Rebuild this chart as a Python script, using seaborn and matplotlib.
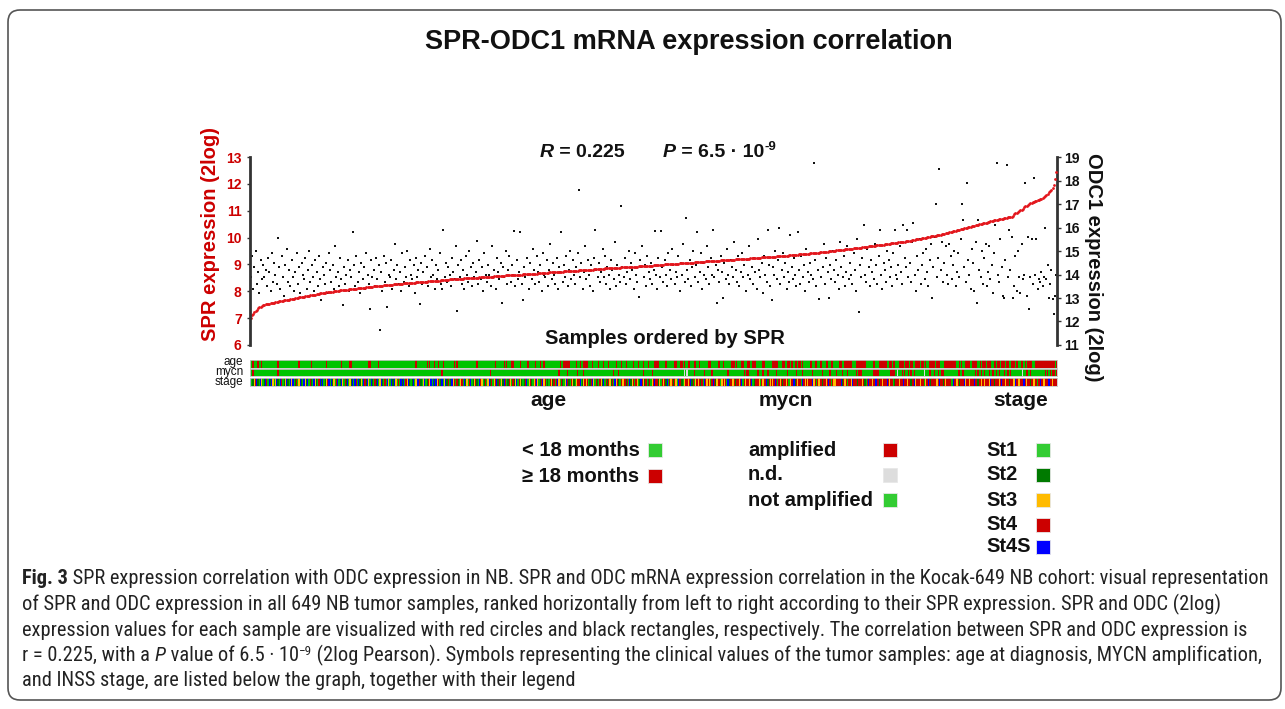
import numpy as np
import pandas as pd
import seaborn as sns
import matplotlib.pyplot as plt
from matplotlib.colors import ListedColormap
from matplotlib.patches import FancyBboxPatch, Rectangle
from matplotlib import font_manager

W, H = 1285, 709

# SPR expression (2log), samples sorted by SPR
spr = [
    7.00, 7.10, 7.17, 7.22, 7.28, 7.32, 7.36, 7.40, 7.43, 7.46,
    7.48, 7.50, 7.51, 7.52, 7.53, 7.54, 7.55, 7.56, 7.57, 7.58,
    7.59, 7.60, 7.61, 7.62, 7.63, 7.64, 7.65, 7.66, 7.67, 7.68,
    7.69, 7.69, 7.70, 7.71, 7.72, 7.73, 7.74, 7.75, 7.76, 7.77,
    7.78, 7.78, 7.79, 7.80, 7.81, 7.82, 7.83, 7.84, 7.85, 7.86,
    7.87, 7.87, 7.88, 7.89, 7.90, 7.91, 7.92, 7.92, 7.93, 7.94,
    7.95, 7.96, 7.97, 7.97, 7.98, 7.98, 7.99, 8.00, 8.00, 8.01,
    8.01, 8.02, 8.03, 8.03, 8.04, 8.04, 8.05, 8.06, 8.06, 8.07,
    8.07, 8.08, 8.08, 8.09, 8.09, 8.10, 8.11, 8.11, 8.12, 8.12,
    8.13, 8.13, 8.14, 8.15, 8.15, 8.16, 8.16, 8.17, 8.17, 8.18,
    8.18, 8.19, 8.19, 8.20, 8.20, 8.21, 8.21, 8.22, 8.22, 8.23,
    8.23, 8.24, 8.24, 8.25, 8.25, 8.26, 8.26, 8.26, 8.27, 8.27,
    8.28, 8.28, 8.28, 8.29, 8.29, 8.30, 8.30, 8.30, 8.31, 8.31,
    8.32, 8.32, 8.32, 8.33, 8.33, 8.34, 8.34, 8.34, 8.35, 8.35,
    8.35, 8.36, 8.36, 8.37, 8.37, 8.37, 8.38, 8.38, 8.39, 8.39,
    8.40, 8.40, 8.40, 8.41, 8.41, 8.42, 8.42, 8.43, 8.43, 8.43,
    8.44, 8.44, 8.44, 8.45, 8.45, 8.45, 8.46, 8.46, 8.46, 8.47,
    8.47, 8.47, 8.48, 8.48, 8.48, 8.49, 8.49, 8.49, 8.50, 8.50,
    8.50, 8.51, 8.51, 8.51, 8.52, 8.52, 8.52, 8.53, 8.53, 8.53,
    8.54, 8.54, 8.54, 8.55, 8.55, 8.55, 8.56, 8.56, 8.56, 8.57,
    8.57, 8.57, 8.58, 8.58, 8.58, 8.59, 8.59, 8.59, 8.60, 8.60,
    8.60, 8.60, 8.61, 8.61, 8.61, 8.62, 8.62, 8.62, 8.62, 8.63,
    8.63, 8.63, 8.64, 8.64, 8.64, 8.65, 8.65, 8.65, 8.66, 8.66,
    8.66, 8.67, 8.67, 8.67, 8.68, 8.68, 8.68, 8.69, 8.69, 8.69,
    8.70, 8.70, 8.70, 8.71, 8.71, 8.71, 8.72, 8.72, 8.72, 8.73,
    8.73, 8.73, 8.74, 8.74, 8.74, 8.75, 8.75, 8.75, 8.76, 8.76,
    8.76, 8.77, 8.77, 8.77, 8.78, 8.78, 8.78, 8.79, 8.79, 8.79,
    8.80, 8.80, 8.80, 8.81, 8.81, 8.81, 8.82, 8.82, 8.82, 8.83,
    8.83, 8.83, 8.84, 8.84, 8.84, 8.85, 8.85, 8.85, 8.86, 8.86,
    8.86, 8.87, 8.87, 8.87, 8.88, 8.88, 8.88, 8.88, 8.89, 8.89,
    8.89, 8.90, 8.90, 8.90, 8.90, 8.91, 8.91, 8.91, 8.91, 8.92,
    8.92, 8.92, 8.93, 8.93, 8.93, 8.94, 8.94, 8.94, 8.95, 8.95,
    8.95, 8.96, 8.96, 8.96, 8.97, 8.97, 8.97, 8.98, 8.98, 8.98,
    8.99, 8.99, 8.99, 9.00, 9.00, 9.00, 9.01, 9.01, 9.01, 9.02,
    9.02, 9.02, 9.03, 9.03, 9.03, 9.04, 9.04, 9.04, 9.05, 9.05,
    9.05, 9.06, 9.06, 9.06, 9.07, 9.07, 9.07, 9.08, 9.08, 9.08,
    9.09, 9.09, 9.09, 9.10, 9.10, 9.10, 9.11, 9.11, 9.11, 9.12,
    9.12, 9.12, 9.13, 9.13, 9.13, 9.14, 9.14, 9.14, 9.15, 9.15,
    9.15, 9.16, 9.16, 9.16, 9.17, 9.17, 9.17, 9.18, 9.18, 9.18,
    9.19, 9.19, 9.19, 9.20, 9.20, 9.20, 9.21, 9.21, 9.21, 9.22,
    9.22, 9.22, 9.23, 9.23, 9.23, 9.24, 9.24, 9.24, 9.25, 9.25,
    9.25, 9.26, 9.26, 9.26, 9.27, 9.27, 9.27, 9.28, 9.28, 9.28,
    9.29, 9.29, 9.29, 9.30, 9.30, 9.31, 9.31, 9.31, 9.32, 9.32,
    9.32, 9.33, 9.33, 9.34, 9.34, 9.34, 9.35, 9.35, 9.36, 9.36,
    9.36, 9.37, 9.37, 9.38, 9.38, 9.38, 9.39, 9.39, 9.40, 9.40,
    9.41, 9.41, 9.42, 9.42, 9.43, 9.43, 9.44, 9.44, 9.45, 9.45,
    9.46, 9.46, 9.47, 9.47, 9.48, 9.49, 9.49, 9.50, 9.50, 9.51,
    9.51, 9.52, 9.52, 9.53, 9.54, 9.54, 9.55, 9.55, 9.56, 9.56,
    9.57, 9.57, 9.58, 9.59, 9.59, 9.60, 9.60, 9.61, 9.61, 9.62,
    9.63, 9.63, 9.64, 9.64, 9.65, 9.66, 9.66, 9.67, 9.67, 9.68,
    9.69, 9.69, 9.70, 9.71, 9.71, 9.72, 9.72, 9.73, 9.74, 9.74,
    9.75, 9.76, 9.76, 9.77, 9.77, 9.78, 9.79, 9.79, 9.80, 9.81,
    9.81, 9.82, 9.83, 9.83, 9.84, 9.85, 9.85, 9.86, 9.87, 9.87,
    9.88, 9.89, 9.90, 9.91, 9.92, 9.93, 9.94, 9.94, 9.95, 9.96,
    9.97, 9.98, 9.99, 10.00, 10.01, 10.02, 10.03, 10.04, 10.05, 10.06,
    10.06, 10.07, 10.08, 10.09, 10.10, 10.11, 10.12, 10.13, 10.15, 10.16,
    10.17, 10.18, 10.20, 10.21, 10.22, 10.23, 10.25, 10.26, 10.27, 10.28,
    10.30, 10.31, 10.32, 10.33, 10.35, 10.36, 10.37, 10.38, 10.40, 10.41,
    10.42, 10.43, 10.44, 10.45, 10.47, 10.48, 10.49, 10.50, 10.51, 10.53,
    10.54, 10.55, 10.56, 10.57, 10.59, 10.60, 10.61, 10.62, 10.64, 10.65,
    10.66, 10.67, 10.68, 10.69, 10.70, 10.71, 10.72, 10.73, 10.74, 10.75,
    10.76, 10.77, 10.78, 10.82, 10.86, 10.90, 10.93, 10.95, 10.98, 11.01,
    11.04, 11.08, 11.12, 11.16, 11.19, 11.22, 11.25, 11.27, 11.29, 11.31,
    11.33, 11.35, 11.37, 11.39, 11.41, 11.43, 11.45, 11.47, 11.50, 11.53,
    11.58, 11.63, 11.68, 11.73, 11.78, 11.86, 11.95, 12.18, 12.45,
]

# ODC1 expression (2log), same sample order
odc1 = [
    13.9, 14.8, 13.4, 14.3, 15.0, 13.6, 14.1, 13.2, 14.6, 13.8,
    14.4, 13.9, 14.2, 13.5, 14.7, 14.1, 13.3, 14.9, 13.7, 14.5,
    14.0, 13.6, 15.56, 14.3, 13.4, 14.8, 13.9, 13.1, 14.4, 15.1,
    13.7, 14.2, 13.5, 14.6, 13.9, 13.3, 14.1, 14.9, 13.6, 14.3,
    13.2, 14.5, 14.0, 13.8, 14.7, 13.4, 14.2, 15.0, 13.7, 14.4,
    13.9, 13.3, 14.6, 14.1, 13.5, 14.8, 13.8, 12.9, 14.3, 14.0,
    13.6, 14.5, 13.2, 14.9, 14.2, 13.7, 14.4, 13.4, 15.2, 13.9,
    14.1, 13.5, 14.7, 13.8, 12.7, 14.3, 13.6, 14.0, 14.6, 13.3,
    14.2, 13.9, 15.8, 14.4, 13.5, 14.8, 13.7, 14.1, 13.2, 14.5,
    13.8, 14.3, 13.4, 14.9, 14.0, 13.6, 12.55, 14.6, 13.9, 14.2,
    13.5, 14.7, 13.8, 14.4, 11.65, 14.1, 13.3, 14.8, 13.7, 14.5,
    12.6, 14.0, 13.9, 14.6, 13.4, 14.2, 15.3, 13.8, 14.4, 13.6,
    14.1, 13.3, 14.9, 13.7, 14.3, 13.9, 15.0, 13.5, 14.6, 14.0,
    13.8, 14.4, 13.2, 14.7, 13.9, 14.2, 12.75, 14.5, 13.6, 14.1,
    14.8, 13.7, 14.3, 13.5, 15.1, 13.9, 14.6, 14.0, 13.4, 14.4,
    13.8, 14.2, 14.9, 13.6, 13.4, 15.9, 13.9, 14.5, 13.7, 14.3,
    14.0, 13.5, 14.7, 14.1, 13.8, 15.2, 12.46, 14.4, 13.9, 14.6,
    13.6, 14.2, 13.4, 14.8, 14.0, 13.7, 15.0, 14.3, 13.5, 14.5,
    13.9, 14.1, 15.43, 13.6, 14.6, 13.8, 14.3, 13.3, 14.9, 14.0,
    13.7, 14.4, 14.0, 13.5, 15.2, 13.9, 14.2, 13.4, 14.7, 14.1,
    13.8, 14.5, 12.8, 14.3, 13.9, 15.0, 13.6, 14.2, 14.8, 13.7,
    14.4, 14.0, 15.86, 13.5, 14.6, 13.8, 14.1, 15.82, 13.6, 12.9,
    14.3, 13.9, 14.7, 14.0, 13.4, 14.5, 13.8, 15.1, 14.2, 13.6,
    14.8, 14.1, 13.7, 14.4, 13.3, 14.9, 14.0, 13.9, 14.6, 13.5,
    14.2, 15.3, 13.8, 14.5, 14.0, 13.6, 14.7, 13.4, 14.3, 14.1,
    15.8, 13.7, 14.4, 13.9, 14.8, 13.5, 14.2, 15.0, 13.8, 14.6,
    14.0, 13.6, 14.3, 14.9, 17.6, 13.9, 14.5, 13.4, 14.1, 15.2,
    13.8, 14.6, 14.0, 13.5, 14.4, 13.3, 14.7, 15.9, 14.2, 13.9,
    14.5, 13.7, 14.1, 15.1, 13.9, 14.8, 13.6, 14.3, 14.0, 13.4,
    14.6, 14.2, 13.8, 15.4, 13.5, 14.4, 14.0, 13.7, 16.9, 14.3,
    13.9, 14.7, 13.6, 14.1, 15.0, 13.8, 14.5, 14.2, 13.4, 14.9,
    14.0, 13.7, 13.06, 14.6, 14.3, 15.2, 13.9, 14.4, 13.5, 14.8,
    14.1, 13.8, 14.5, 13.6, 14.2, 15.85, 14.0, 13.4, 14.7, 13.9,
    15.85, 14.3, 13.7, 14.6, 14.0, 13.5, 14.9, 14.2, 13.8, 15.1,
    14.4, 13.6, 14.1, 13.9, 14.8, 13.3, 14.5, 14.0, 15.3, 13.7,
    16.4, 14.2, 13.8, 14.6, 13.5, 14.3, 15.0, 13.9, 14.4, 15.8,
    13.7, 14.1, 14.9, 13.4, 14.5, 14.0, 13.8, 15.2, 14.3, 13.6,
    14.7, 14.0, 15.9, 13.9, 14.4, 12.8, 14.2, 13.7, 14.8, 14.1,
    13.0, 14.5, 13.8, 15.1, 14.0, 13.6, 14.6, 14.3, 13.9, 15.4,
    14.2, 13.7, 14.8, 13.5, 14.1, 14.9, 13.9, 14.4, 13.3, 14.6,
    14.0, 15.2, 13.8, 14.3, 13.6, 14.7, 14.1, 13.4, 15.5, 14.2,
    13.9, 14.5, 13.2, 14.8, 14.0, 13.7, 15.9, 14.4, 13.5, 12.9,
    14.3, 14.0, 15.0, 13.8, 14.6, 16.0, 13.6, 14.2, 14.9, 13.9,
    14.5, 13.4, 14.1, 13.7, 15.7, 14.3, 13.8, 14.7, 14.0, 13.5,
    15.8, 14.2, 13.6, 14.8, 13.9, 14.4, 13.3, 15.1, 14.1, 13.7,
    14.5, 14.0, 13.8, 18.74, 14.6, 13.5, 14.2, 12.95, 14.9, 13.9,
    14.3, 15.3, 13.6, 14.7, 14.1, 13.0, 14.4, 13.8, 15.0, 14.2,
    13.7, 14.6, 14.0, 13.4, 15.4, 14.3, 13.9, 14.8, 13.5, 14.1,
    15.2, 13.8, 14.5, 14.0, 13.6, 14.9, 14.2, 13.3, 15.5, 12.4,
    14.4, 13.9, 14.7, 16.1, 14.0, 13.7, 15.1, 14.3, 13.5, 14.6,
    14.1, 13.8, 15.3, 14.4, 13.6, 14.8, 15.9, 14.0, 13.4, 14.5,
    14.2, 13.7, 15.0, 14.6, 13.9, 14.3, 13.5, 14.9, 15.9, 14.0,
    13.8, 14.4, 15.2, 14.1, 13.6, 16.1, 14.7, 14.3, 15.9, 13.9,
    14.5, 13.7, 15.4, 16.2, 14.0, 13.3, 14.8, 14.2, 15.5, 13.6,
    14.4, 14.9, 13.8, 15.1, 14.1, 13.5, 14.6, 15.3, 13.0, 14.3,
    15.6, 17.0, 13.9, 14.7, 18.5, 14.2, 15.4, 13.7, 14.5, 15.2,
    14.0, 13.6, 15.3, 14.8, 13.8, 14.4, 15.0, 13.5, 14.1, 14.9,
    13.9, 15.5, 16.98, 16.3, 14.3, 13.7, 17.9, 14.6, 14.0, 13.4,
    15.1, 14.5, 13.3, 15.4, 12.8, 16.3, 14.2, 13.9, 15.0, 13.6,
    14.7, 15.3, 13.5, 14.1, 15.2, 13.8, 14.4, 13.2, 14.9, 16.1,
    18.74, 14.0, 13.7, 15.5, 14.3, 13.1, 13.0, 14.6, 18.66, 13.9,
    15.9, 14.2, 15.6, 13.0, 13.5, 14.8, 13.3, 15.0, 13.9, 13.2,
    15.3, 13.8, 14.0, 17.9, 13.1, 15.6, 12.55, 13.9, 15.5, 13.6,
    18.1, 14.0, 15.5, 13.4, 13.8, 13.7, 14.1, 13.5, 13.9, 16.0,
    13.8, 14.4, 13.0, 13.6, 14.2, 12.95, 12.3, 13.1, 14.0,
]

# clinical tracks, one character per sample
# age: g = < 18 months, r = >= 18 months
age_rows = [
    "ggrgggrggr gggggggggg ggrggggggg gggggggggr gggggggggr",
    "gggggggggg grgggggggg gggrgggggg rrgggggggg gggggrrggg",
    "gggrgggggg gggggggggg gggggggggg gggrgggggg ggrgrgggrg",
    "grgggrgggg ggggrgrggg gggggggggg ggrggggggg gggggggrgg",
    "ggggrgrggg rrgggggrgg gggrgggggr gggrggrggg gggggggggr",
    "ggrrrrrggg ggrggrggrr rrgggrgggg rgggrgggrg ggggrgggrg",
    "ggrgggggrg ggrgggrggg rggggrrrrg ggggrggggg grrgggrrgr",
    "ggrrgggrrg grggggggrr rgggggrrgg rggggggrrr grgggrrggg",
    "rrggrrrggg ggrrgggggg rrrrrgggrr ggrrgrrgrr grrgrggggg",
    "rrggrrggrr gggrrggrrg ggggrrggrr rrrrgggrrr rrrrrggggg",
    "grrgggrrrr rrggrrgrrg ggrrrrgrrr grrggrrrrg rrgrggrrrr",
    "rgrrrgggrr rrrrrrrrgg rgrggrrrrg grrrrggrgr rrgrrrggrr",
    "grrgrrrgrr ggrrrgrrgg rrgrgrrrrg grrrrrrrrr rrrrrrrgr",
]
# mycn: g = not amplified, r = amplified, w = n.d.
mycn_rows = [
    "ggrggggggg gggggggggg ggrggggggg gggggggggg gggggggggg",
    "gggggggggg gggggggggg gggggggggg gggggggggg gggggggggg",
    "gggggggggg gggggggggg gggggggggg gggggggggg gggggggggg",
    "ggggrggggg gggggggggg gggggggggg gggggggggg gggrgggggg",
    "gggggggggg gggggggggg gggggggggg gggggggggg ggggggggrg",
    "gggggrgggg gggrggggrg gggggggggg gggggggggg ggrgggrggg",
    "gggggggggg ggggggrggg gggrgggggg gggggggggg gggggggggw",
    "gwgggggrgg gggggrgggg grgggggggg ggggrggggg gggggggrgr",
    "rgggggggrg ggrgggrggg gggrgggggg ggrggggggr ggggrggggg",
    "ggrggggggg rgggggrggg grggggrggg rggggggrgr rrgggggggg",
    "grrrrrgggg gggggrrrrg wgggrgrggr grggrggggg ggwgggrrgg",
    "rggrggrrgg gggggggggr rggrgggggg gggrgrggrg rgggrggrgg",
    "rgrgggrggr grgggggggg gwggrrgrgg gggggggggr grgrgrrgr",
]
# INSS stage: 1, 2, 3, 4, S = 4S
stage_rows = [
    "S1234S21S3 12S41S2S31 3S21S4123S 21S3S12413 S21S32S142",
    "1S3214S2S1 234S1S2314 S12S3142S1 32S1S41S23 1S42S31S21",
    "42S13S2141 S31S22S314 1S2S143S21 2S13SS4213 S1243S1S2S",
    "3412S13S24 12S3414213 41S2314S12 3421S43124 13S24134S2",
    "4132S41243 1423S14321 24S1342134 S3124S3412 1432414S31",
    "4213S42143 21344S1234 34124S3142 1432S14243 241S342143",
    "34241S2341 4312S43241 24134S4423 14342S1434 2431S44213",
    "4434S24134 34241S4343 14S4234413 4341S24434 24434S1434",
    "434S124443 14344S2434 34S4143424 4341344S24 3441S43434",
    "44S3414344 24434S4143 34444S2434 1443S44424 4434214S44",
    "344S442434 44S4344124 44344S4434 4244S34443 44134S4244",
    "4434S44243 44441S4434 2444S34434 44S4424434 34443S4424",
    "4434S44344 24443S4434 44S4344244 34414S4434 44S443444",
]

age_labels = ["< 18 months", "≥ 18 months"]
mycn_labels = ["amplified", "n.d.", "not amplified"]
stage_labels = ["St1", "St2", "St3", "St4", "St4S"]

RED = "#CC0000"
GREEN = "#00C400"
LGREEN = "#33CC33"
DGREEN = "#007A00"
ORANGE = "#FFBB00"
BLUE = "#0000FF"
GREY = "#DDDDDD"
INK = "#111111"

age_track = "".join("".join(r.split()) for r in age_rows)
mycn_track = "".join("".join(r.split()) for r in mycn_rows)
stage_track = "".join("".join(r.split()) for r in stage_rows)
n = len(spr)
lens = [len(spr), len(odc1), len(age_track), len(mycn_track), len(stage_track)]
if len(set(lens)) != 1:
    raise ValueError("length mismatch: %s" % lens)

sns.set_style("white")
plt.rcParams["font.family"] = ["Liberation Sans", "DejaVu Sans"]

fig = plt.figure(figsize=(W / 100, H / 100), dpi=100)
ov = fig.add_axes([0, 0, 1, 1])
ov.set_xlim(0, W)
ov.set_ylim(H, 0)
ov.axis("off")


def px_rect(x0, y0, x1, y1):
    return [x0 / W, 1 - y1 / H, (x1 - x0) / W, (y1 - y0) / H]


# outer frame
ov.add_patch(FancyBboxPatch((8, 10), 1273, 690, boxstyle="round,pad=0,rounding_size=12",
                            fill=False, edgecolor="#555555", linewidth=1.2))

# main scatter: SPR (left axis, red) and ODC1 (right axis, black)
df = pd.DataFrame({"sample": np.arange(n), "SPR": spr, "ODC1": odc1})
ax = fig.add_axes(px_rect(250, 157, 1057, 345))
ax2 = ax.twinx()
sns.scatterplot(data=df, x="sample", y="ODC1", ax=ax2, marker="s", s=4,
                color=INK, linewidth=0)
sns.scatterplot(data=df, x="sample", y="SPR", ax=ax, marker="o", s=4,
                color="#E3161C", linewidth=0)
ax.set_zorder(ax2.get_zorder() + 1)
ax.patch.set_visible(False)

ax.set_xlim(-0.5, n - 0.5)
ax.set_ylim(6, 13)
ax2.set_ylim(11, 19)
for a in (ax, ax2):
    for sp in a.spines.values():
        sp.set_visible(False)
    a.set_xlabel("")
    a.set_ylabel("")
    a.set_xticks([])
ax.spines["left"].set_visible(True)
ax2.spines["right"].set_visible(True)
for sp in (ax.spines["left"], ax2.spines["right"]):
    sp.set_color("#333333")
    sp.set_linewidth(2)

ax.set_yticks(range(6, 14), labels=[str(v) for v in range(6, 14)],
              fontweight="bold", color=RED, fontsize=10)
ax.tick_params(axis="y", length=2, width=1, color="#333333", pad=4)
ax2.set_yticks(range(11, 20), labels=[str(v) for v in range(11, 20)],
               fontweight="bold", color=INK, fontsize=10)
ax2.tick_params(axis="y", length=3, width=1, color="#333333", pad=2)


# clinical tracks
def draw_track(y0, y1, codes, keys, colors):
    tax = fig.add_axes(px_rect(250, y0, 1057, y1))
    vals = np.array([[keys.index(c) for c in codes]])
    sns.heatmap(vals, ax=tax, cmap=ListedColormap(colors), vmin=-0.5,
                vmax=len(colors) - 0.5, cbar=False, xticklabels=False,
                yticklabels=False)
    for sp in tax.spines.values():
        sp.set_visible(True)
        sp.set_color("#C8C8C8")
        sp.set_linewidth(0.6)


draw_track(359.5, 367.5, age_track, "gr", [GREEN, RED])
draw_track(368.5, 376.5, mycn_track, "grw", [GREEN, RED, GREY])
draw_track(377.5, 385.5, stage_track, "1234S", [GREEN, DGREEN, ORANGE, RED, BLUE])

# text helpers (pixel coordinates on the overlay axes)
rend = fig.canvas.get_renderer()


def text_width(s, **kw):
    t = ov.text(0, 0, s, **kw)
    w = t.get_window_extent(renderer=rend).width
    t.remove()
    return w


def advance(s, **kw):
    return text_width(s + "|", **kw) - text_width("|", **kw)


def run_text(x, y, pieces, draw=True, **base):
    for s, extra in pieces:
        kw = dict(base)
        kw.update(extra)
        dy = kw.pop("dy", 0)
        if draw:
            ov.text(x, y + dy, s, ha="left", va="baseline", **kw)
        x += advance(s, **kw)
    return x


ov.text(689, 42, "SPR-ODC1 mRNA expression correlation", ha="center", va="center",
        fontsize=19.5, fontweight="bold", color=INK)

bold = {"fontweight": "bold"}
bi = {"fontweight": "bold", "fontstyle": "italic"}
run_text(540, 157, [("R", bi), (" = 0.225", bold)], fontsize=14, color=INK)
run_text(663, 157, [("P", bi), (" = 6.5 · 10", bold),
                    ("-9", {"fontweight": "bold", "fontsize": 9.5, "dy": -7})],
         fontsize=14, color=INK)

ov.text(545, 338, "Samples ordered by SPR", ha="left", va="center", fontsize=14.5,
        fontweight="bold", color=INK)

ov.text(211, 234, "SPR expression (2log)", rotation=90, ha="center", va="center",
        fontsize=14.5, fontweight="bold", color=RED)
ov.text(1094, 267, "ODC1 expression (2log)", rotation=270, ha="center", va="center",
        fontsize=14.5, fontweight="bold", color=INK)

for lbl, y in zip(["age", "mycn", "stage"], [361.5, 371.5, 381.5]):
    ov.text(243, y, lbl, ha="right", va="center", fontsize=8.5, color=INK)
for lbl, x in zip(["age", "mycn", "stage"], [548, 786, 1021]):
    ov.text(x, 400, lbl, ha="center", va="center", fontsize=15, fontweight="bold",
            color=INK)


# legends
def legend_col(tx, sx, ys, labels, colors):
    for lbl, y, c in zip(labels, ys, colors):
        ov.text(tx, y, lbl, ha="left", va="center", fontsize=14.5, fontweight="bold",
                color=INK)
        ov.add_patch(Rectangle((sx, y - 7), 14, 14, facecolor=c, edgecolor="#E8E8E8",
                               linewidth=0.6))


legend_col(522, 648, [450, 476], age_labels, [LGREEN, RED])
legend_col(748, 883, [450, 475, 500], mycn_labels, [RED, GREY, LGREEN])
legend_col(986, 1036, [450, 475, 500, 525, 547], stage_labels,
           [LGREEN, DGREEN, ORANGE, RED, BLUE])

# caption
names = {f.name for f in font_manager.fontManager.ttflist}
cap_font = "Liberation Sans"
for cand in ["Liberation Sans Narrow", "Roboto Condensed", "Open Sans Condensed"]:
    if cand in names:
        cap_font = cand
        break
cap_family = [cap_font, "DejaVu Sans"]

cap1 = ("Fig. 3", " SPR expression correlation with ODC expression in NB. SPR and ODC mRNA "
        "expression correlation in the Kocak-649 NB cohort: visual representation")
cap2 = ("of SPR and ODC expression in all 649 NB tumor samples, ranked horizontally from "
        "left to right according to their SPR expression. SPR and ODC (2log)")
cap3 = ("expression values for each sample are visualized with red circles and black "
        "rectangles, respectively. The correlation between SPR and ODC expression is")
cap4 = ("r = 0.225, with a ", "P", " value of 6.5 · 10", "−9",
        " (2log Pearson). Symbols representing the clinical values of the tumor samples: "
        "age at diagnosis, MYCN amplification,")
cap5 = "and INSS stage, are listed below the graph, together with their legend"

line1 = [(cap1[0], {"fontweight": "bold"}), (cap1[1], {})]
w10 = run_text(0, 0, line1, draw=False, family=cap_family, fontsize=10)
cs = 10 * 1238 / w10
cb = {"family": cap_family, "fontsize": cs, "color": "#222222"}
run_text(22, 584, line1, **cb)
run_text(22, 610, [(cap2, {})], **cb)
run_text(22, 635.5, [(cap3, {})], **cb)
run_text(22, 661, [(cap4[0], {}), (cap4[1], {"fontstyle": "italic"}), (cap4[2], {}),
                   (cap4[3], {"fontsize": cs * 0.65, "dy": -6}), (cap4[4], {})], **cb)
run_text(22, 686.5, [(cap5, {})], **cb)

fig.savefig("out.png", dpi=100)
